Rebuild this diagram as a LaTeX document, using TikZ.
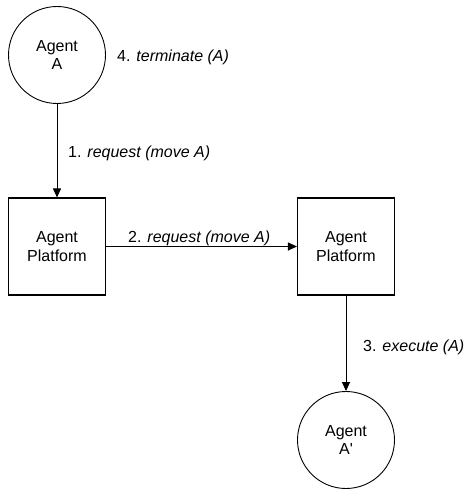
\documentclass[tikz,border=0pt]{standalone}
\usepackage{fontspec}
\setmainfont{Liberation Sans}
\usetikzlibrary{arrows.meta}
\begin{document}
\begin{tikzpicture}[x=1pt,y=-1pt,
  agent/.style={draw, circle, line width=0.9pt, minimum size=97pt, inner sep=0pt, align=center, font=\fontsize{16}{18.5}\selectfont},
  platform/.style={draw, rectangle, line width=1.1pt, minimum width=97pt, minimum height=97pt, inner sep=0pt, align=center, font=\fontsize{16}{18.5}\selectfont},
  lbl/.style={anchor=west, inner sep=0pt, font=\fontsize{16}{18.5}\selectfont},
  conn/.style={line width=1pt, -{Triangle[length=9pt,width=8pt]}}]
\useasboundingbox (0,0) rectangle (466,489);
\node[agent] (a) at (57,55) {Agent\\A};
\node[platform] (p1) at (57,246.5) {Agent\\Platform};
\node[platform] (p2) at (346,246.5) {Agent\\Platform};
\node[agent] (a2) at (346,440) {Agent\\A\textquotesingle};
\draw[conn] (a) -- (p1);
\draw[conn] (p1) -- (p2);
\draw[conn] (p2) -- (a2);
\node[lbl] (l1) at (68,153) {1. \textit{request (move A)}};
\node[lbl] (l2) at (128,238) {2. \textit{request (move A)}};
\node[lbl] (l3) at (363,347) {3. \textit{execute (A)}};
\node[lbl] (l4) at (117,57) {4. \textit{terminate (A)}};
\end{tikzpicture}
\end{document}
